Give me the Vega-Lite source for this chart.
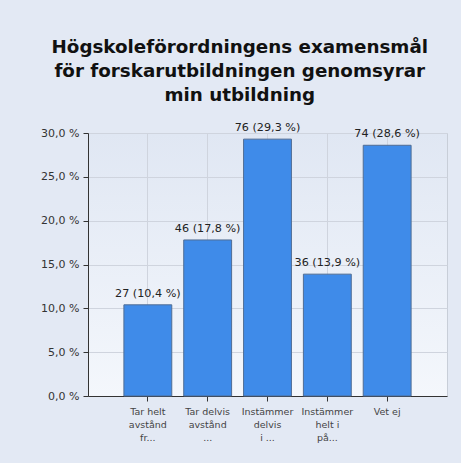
{
  "$schema": "https://vega.github.io/schema/vega-lite/v6.json",
  "width": 359,
  "height": 263,
  "autosize": {"type": "none"},
  "padding": {"left": 88, "top": 133, "right": 14, "bottom": 67},
  "background": "#e3e9f4",
  "title": {
    "text": ["Högskoleförordningens examensmål", "för forskarutbildningen genomsyrar", "min utbildning"],
    "font": "DejaVu Sans",
    "fontSize": 18.3,
    "fontWeight": "bold",
    "color": "#111111",
    "lineHeight": 24,
    "anchor": "middle",
    "frame": "bounds",
    "dx": -4,
    "offset": 17
  },
  "data": {
    "values": [
      {"kategori": "Tar helt\navstånd\nfr...", "antal": 27, "procent": 10.4},
      {"kategori": "Tar delvis\navstånd\n...", "antal": 46, "procent": 17.8},
      {"kategori": "Instämmer\ndelvis\ni ...", "antal": 76, "procent": 29.3},
      {"kategori": "Instämmer\nhelt i\npå...", "antal": 36, "procent": 13.9},
      {"kategori": "Vet ej", "antal": 74, "procent": 28.6}
    ]
  },
  "encoding": {
    "x": {
      "field": "kategori",
      "type": "nominal",
      "sort": null,
      "scale": {"paddingInner": 0.2, "paddingOuter": 0.6},
      "axis": {
        "title": null,
        "labelAngle": 0,
        "labelExpr": "split(datum.label, '\\n')",
        "labelFont": "DejaVu Sans",
        "labelFontSize": 9.5,
        "labelColor": "#444444",
        "labelLineHeight": 13,
        "labelPadding": 5,
        "labelBaseline": "top",
        "domainColor": "#333333",
        "tickColor": "#333333",
        "tickSize": 5,
        "grid": true,
        "gridColor": "#cfd4de"
      }
    },
    "y": {
      "field": "procent",
      "type": "quantitative",
      "scale": {"domain": [0, 30], "nice": false},
      "axis": {
        "title": null,
        "values": [0, 5, 10, 15, 20, 25, 30],
        "labelExpr": "replace(format(datum.value, '.1f'), '.', ',') + ' %'",
        "labelFont": "DejaVu Sans",
        "labelFontSize": 11,
        "labelColor": "#333333",
        "labelPadding": 4,
        "domainColor": "#333333",
        "tickColor": "#333333",
        "tickSize": 5,
        "gridColor": "#cfd4de"
      }
    }
  },
  "layer": [
    {
      "mark": {"type": "bar", "fill": "#3f8be9", "stroke": "#506d94", "strokeWidth": 1}
    },
    {
      "mark": {"type": "text", "baseline": "bottom", "dy": -6, "font": "DejaVu Sans", "fontSize": 11.2, "color": "#222222"},
      "encoding": {
        "text": {"field": "etikett", "type": "nominal"}
      },
      "transform": [
        {"calculate": "datum.antal + ' (' + replace(format(datum.procent, '.1f'), '.', ',') + ' %)'", "as": "etikett"}
      ]
    }
  ],
  "config": {
    "view": {"stroke": "#c8ced8", "fill": {"gradient": "linear", "x1": 0, "y1": 0, "x2": 0, "y2": 1, "stops": [{"offset": 0, "color": "#e0e7f3"}, {"offset": 1, "color": "#f4f7fc"}]}}
  }
}
